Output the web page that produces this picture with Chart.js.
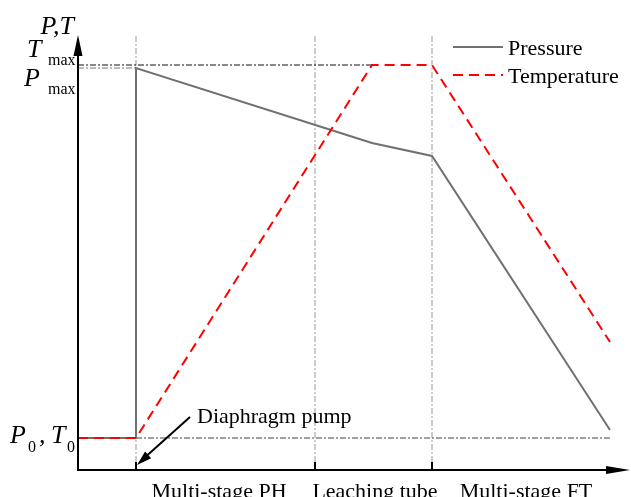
<!DOCTYPE html>
<html>
<head>
<meta charset="utf-8">
<script src="https://cdn.jsdelivr.net/npm/chart.js@4"></script>
<style>
  html, body { margin: 0; padding: 0; background: #fff; }
  #wrap { width: 631px; height: 497px; }
</style>
</head>
<body>
<div id="wrap"><canvas id="chart" width="631" height="497"></canvas></div>
<script>
// position along the line (arbitrary units) and level (arbitrary units)
const pressureX = [0, 58, 58, 294, 354, 532];
const pressureY = [32, 32, 402, 327, 314, 40];
const temperatureX = [0, 58, 294, 354, 532];
const temperatureY = [32, 32, 405, 405, 128];

const P0 = 32;
const Pmax = 402;
const Tmax = 405;

const stageBounds = [58, 237, 354];
const stageLabels = ['Multi-stage PH', 'Leaching tube', 'Multi-stage FT'];
const stageLabelX = [141, 297, 448];

const pumpText = 'Diaphragm pump';
const pumpFrom = [112, 53];
const pumpTo = [59, 5];

const xMax = 552;
const yMax = 435;

const serif = '"Liberation Serif", "Times New Roman", serif';
const dashDot = [6, 2, 2, 2];

function pts(xs, ys) {
    return xs.map((x, i) => ({ x: x, y: ys[i] }));
}

function refLine(x1, y1, x2, y2, color) {
    return {
        label: '',
        data: [{ x: x1, y: y1 }, { x: x2, y: y2 }],
        borderColor: color,
        borderWidth: 1,
        borderDash: dashDot,
        pointRadius: 0,
        fill: false
    };
}

const datasets = [
    {
        label: 'Temperature',
        data: pts(temperatureX, temperatureY),
        borderColor: '#ff0000',
        borderWidth: 2,
        borderDash: [10, 6],
        pointRadius: 0,
        fill: false
    },
    {
        label: 'Pressure',
        data: pts(pressureX, pressureY),
        borderColor: '#707070',
        borderWidth: 2,
        pointRadius: 0,
        fill: false
    },
    refLine(0, Tmax, 294, Tmax, '#111'),
    refLine(0, Pmax, stageBounds[0], Pmax, '#777'),
    refLine(stageBounds[0], P0, 532, P0, '#444')
];
stageBounds.forEach(b => datasets.push(refLine(b, 8, b, yMax, '#999')));

function arrowHead(ctx, x1, y1, x2, y2, len, half) {
    const a = Math.atan2(y2 - y1, x2 - x1);
    ctx.beginPath();
    ctx.moveTo(x2, y2);
    ctx.lineTo(x2 - len * Math.cos(a) + half * Math.sin(a), y2 - len * Math.sin(a) - half * Math.cos(a));
    ctx.lineTo(x2 - len * Math.cos(a) - half * Math.sin(a), y2 - len * Math.sin(a) + half * Math.cos(a));
    ctx.closePath();
    ctx.fill();
}

const decor = {
    id: 'decor',
    afterDraw(chart) {
        const ctx = chart.ctx;
        const xs = chart.scales.x, ys = chart.scales.y;
        const area = chart.chartArea;
        const X = v => xs.getPixelForValue(v);
        const Y = v => ys.getPixelForValue(v);
        ctx.save();

        // axes
        ctx.strokeStyle = '#000';
        ctx.fillStyle = '#000';
        ctx.lineWidth = 2;
        ctx.beginPath();
        ctx.moveTo(area.left, area.bottom);
        ctx.lineTo(area.left, area.top + 12);
        ctx.moveTo(area.left - 1, area.bottom);
        ctx.lineTo(area.right - 12, area.bottom);
        ctx.stroke();
        arrowHead(ctx, area.left, area.bottom, area.left, area.top, 21, 4.5);
        arrowHead(ctx, area.left, area.bottom, area.right, area.bottom, 24, 4);

        // ticks at stage boundaries
        ctx.beginPath();
        stageBounds.forEach(b => {
            ctx.moveTo(X(b), area.bottom);
            ctx.lineTo(X(b), area.bottom - 8);
        });
        ctx.stroke();

        // stage labels
        ctx.font = '22px ' + serif;
        ctx.textAlign = 'center';
        ctx.textBaseline = 'alphabetic';
        stageLabels.forEach((s, i) => ctx.fillText(s, X(stageLabelX[i]), area.bottom + 28));

        // pump annotation
        ctx.lineWidth = 2;
        ctx.beginPath();
        ctx.moveTo(X(pumpFrom[0]), Y(pumpFrom[1]));
        ctx.lineTo(X(pumpTo[0]) + 5, Y(pumpTo[1]) - 5);
        ctx.stroke();
        arrowHead(ctx, X(pumpFrom[0]), Y(pumpFrom[1]), X(pumpTo[0]), Y(pumpTo[1]), 15, 4.5);
        ctx.textAlign = 'left';
        ctx.fillText(pumpText, X(pumpFrom[0]) + 7, Y(pumpFrom[1]) + 6);

        // axis symbols
        const it = 'italic 26px ' + serif;
        const sub = '16px ' + serif;
        ctx.font = it;
        ctx.textAlign = 'right';
        ctx.fillText('P,T', area.left - 4, area.top - 1);
        ctx.textAlign = 'left';
        ctx.fillText('T', 27, Y(Tmax) - 8);
        ctx.font = sub;
        ctx.fillText('max', 48, Y(Tmax));
        ctx.font = it;
        ctx.fillText('P', 24, Y(Pmax) + 18);
        ctx.font = sub;
        ctx.fillText('max', 48, Y(Pmax) + 26);
        ctx.font = it;
        ctx.fillText('P', 10, Y(P0) + 5);
        ctx.fillText(',', 39, Y(P0) + 5);
        ctx.fillText('T', 51, Y(P0) + 5);
        ctx.font = sub;
        ctx.fillText('0', 28, Y(P0) + 14);
        ctx.fillText('0', 67, Y(P0) + 14);

        // legend
        const legend = [datasets[1], datasets[0]];
        legend.forEach((d, i) => {
            const y = 47 + i * 28;
            ctx.strokeStyle = d.borderColor;
            ctx.lineWidth = 2;
            ctx.setLineDash(d.borderDash || []);
            ctx.beginPath();
            ctx.moveTo(453, y);
            ctx.lineTo(503, y);
            ctx.stroke();
            ctx.setLineDash([]);
            ctx.fillStyle = '#000';
            ctx.font = '22px ' + serif;
            ctx.fillText(d.label, 508, y + 8);
        });
        ctx.restore();
    }
};

new Chart(document.getElementById('chart'), {
    type: 'line',
    data: { datasets: datasets },
    options: {
        responsive: false,
        animation: false,
        devicePixelRatio: 1,
        layout: { padding: { left: 78, top: 35, right: 1, bottom: 27 } },
        plugins: { legend: { display: false }, tooltip: { enabled: false } },
        scales: {
            x: { type: 'linear', min: 0, max: xMax, display: false },
            y: { type: 'linear', min: 0, max: yMax, display: false }
        }
    },
    plugins: [decor]
});
</script>
</body>
</html>
